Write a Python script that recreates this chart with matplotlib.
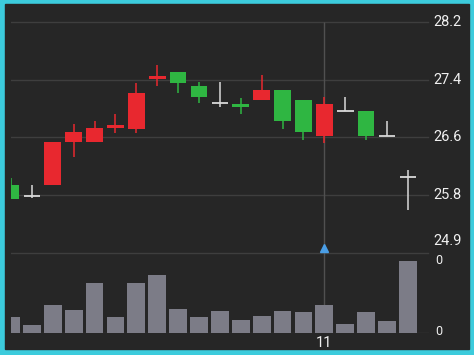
import matplotlib
matplotlib.use("Agg")
import matplotlib.pyplot as plt
from matplotlib.patches import Rectangle
import numpy as np

plt.rcParams['font.family'] = ['Roboto', 'DejaVu Sans']

# candle data
opens  = [25.87, 25.72, 25.87, 26.48, 26.48, 26.68, 26.67, 27.39, 27.48, 27.28,
          27.04, 27.03, 27.08, 27.23, 27.08, 26.57, 26.93, 26.93, 26.57, 25.98]
highs  = [25.97, 25.87, 26.48, 26.74, 26.79, 26.88, 27.33, 27.59, 27.48, 27.34,
          27.34, 27.12, 27.44, 27.23, 27.08, 27.13, 27.13, 26.93, 26.79, 26.08]
lows   = [25.67, 25.68, 25.87, 26.27, 26.48, 26.62, 26.62, 27.28, 27.18, 27.04,
          26.98, 26.88, 27.08, 26.67, 26.52, 26.47, 26.93, 26.52, 26.57, 25.51]
closes = [25.67, 25.72, 26.48, 26.63, 26.68, 26.73, 27.18, 27.43, 27.33, 27.13,
          27.04, 26.99, 27.23, 26.78, 26.63, 27.03, 26.93, 26.57, 26.57, 25.98]
volumes = [16.3, 8, 28, 22.7, 50, 16.3, 50, 58, 23.7, 16.3,
           21.7, 13.3, 17, 22, 21, 27.7, 9.3, 20.7, 12, 72.3]
price_ticks = [24.9, 25.725, 26.55, 27.375, 28.2]
price_labels = ["24.9", "25.8", "26.6", "27.4", "28.2"]
cross_idx = 15
cross_label = "11"

W, H = 474, 355
bg = "#262626"
grid_c = "#3e3e3e"
up_c = "#e8282f"
down_c = "#2fb642"
doji_c = "#d9d9d9"
vol_c = "#7c7c87"
txt_c = "#f0f0f0"


def box(l, t, r, b):
    return [l / W, 1 - b / H, (r - l) / W, (b - t) / H]


fig = plt.figure(figsize=(W / 100, H / 100), dpi=100, facecolor="#3ccbdc")
fig.patches.append(Rectangle((5 / W, 6 / H), 464 / W, 345 / H,
                             transform=fig.transFigure, color=bg, zorder=-5))

ax = fig.add_axes(box(11, 12, 430, 258))
ax2 = fig.add_axes(box(11, 258, 430, 333))
for a in (ax, ax2):
    a.set_facecolor("none")
    for s in a.spines.values():
        s.set_visible(False)
    a.set_xticks([])
    a.set_yticks([])

n = len(opens)
x = np.arange(n)
ppx = 3.3 / 231
ax.set_ylim(24.9 - 5 * ppx, 28.2 + 10 * ppx)
ax.set_xlim(0, 20.06)
ax2.set_xlim(0, 20.06)
ax2.set_ylim(0, 75)

for t, lab in zip(price_ticks, price_labels):
    ax.axhline(t, xmax=0.995, color=grid_c, lw=1, zorder=1)
    va = 'bottom' if lab == "24.9" else 'center'
    dy = 5 * ppx if lab == "24.9" else 0
    ax.text(1.008, t + dy, lab, transform=ax.get_yaxis_transform(),
            color=txt_c, fontsize=10.5, va=va, ha='left')

# crosshair
ax.vlines(cross_idx, ax.get_ylim()[0], 28.2, color="#505050", lw=1, zorder=1)
ax2.axvline(cross_idx, color="#505050", lw=1, zorder=1)
ax.plot([cross_idx], [24.97], marker='^', color="#4a9ee6", markersize=6, zorder=5)

for i in range(n):
    o, h, l, c = opens[i], highs[i], lows[i], closes[i]
    if c > o:
        col = up_c
    elif c < o:
        col = down_c
    else:
        col = doji_c
    ax.vlines(x[i], l, h, color=col, lw=1.1, zorder=3)
    if c == o:
        ax.hlines(o, x[i] - 0.4, x[i] + 0.4, color=col, lw=1.3, zorder=3)
    else:
        ax.bar(x[i], abs(c - o), bottom=min(o, c), width=0.8, color=col, zorder=4)

ax2.bar(x, volumes, width=0.85, color=vol_c, zorder=3)
ax2.axhline(0, xmax=0.995, color=grid_c, lw=1, zorder=1)
ax2.text(1.012, max(volumes), "0", transform=ax2.get_yaxis_transform(),
         color=txt_c, fontsize=9, va='center', ha='left')
ax2.text(1.012, 1.5, "0", transform=ax2.get_yaxis_transform(),
         color=txt_c, fontsize=9, va='center', ha='left')
ax2.annotate(cross_label, xy=(cross_idx, 0), xytext=(0, -2),
             textcoords='offset points', ha='center', va='top',
             color=txt_c, fontsize=10.5, annotation_clip=False)

fig.savefig("out.png", dpi=100, facecolor=fig.get_facecolor())
